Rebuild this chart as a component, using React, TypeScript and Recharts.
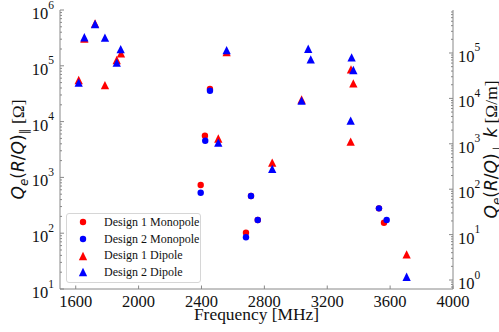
import { ScatterChart, Scatter, XAxis, YAxis } from "recharts";

// monopole modes, left axis [Ohm]
const mono1Freq = [2395, 2422, 2454, 2683, 2715, 2758, 3529, 3561];
const mono1Q = [731, 5590, 38400, 102, 464, 172, 279, 154];
const mono2Freq = [2395, 2424, 2454, 2683, 2715, 2758, 3529, 3578];
const mono2Q = [532, 4550, 35800, 84.5, 464, 172, 279, 172];

// dipole modes, right axis [Ohm/m]
const dip1Freq = [1619, 1655, 1723, 1786, 1861, 1888, 2507, 2560, 2850, 3037, 3349, 3351, 3366, 3705];
const dip1Q = [25400, 208000, 446000, 19700, 70100, 98500, 1309, 105000, 384, 9460, 1112, 43700, 21500, 3.68];
const dip2Freq = [1619, 1655, 1723, 1786, 1861, 1886, 2507, 2560, 2850, 3037, 3079, 3095, 3349, 3355, 3366, 3705];
const dip2Q = [22200, 222000, 435000, 217000, 61100, 122000, 1057, 116000, 279, 8900, 124000, 72600, 3230, 80400, 42200, 1.18];

const freqTicks = [1600, 2000, 2400, 2800, 3200, 3600, 4000];
const freqDomain = [1500, 4000];
const leftDomain = [10, 1e6];
const rightDomain = [0.634, 885000];

const AXIS = "#888";
const SERIF = "Liberation Serif, Times New Roman, serif";
const MATH = "DejaVu Sans, sans-serif";
const serif = { fontFamily: SERIF };
const math = { fontFamily: MATH };

const zip = (xs: number[], ys: number[]) => xs.map((x, i) => ({ x, y: ys[i] }));

function logTicks(lo: number, hi: number) {
  const out: number[] = [];
  for (let e = Math.floor(Math.log10(lo)); e <= Math.ceil(Math.log10(hi)); e++) {
    for (let m = 1; m < 10; m++) {
      const v = m * Math.pow(10, e);
      if (v >= lo && v <= hi) out.push(v);
    }
  }
  return out;
}

function decade(v: number) {
  const l = Math.log10(v);
  const e = Math.round(l);
  return Math.abs(l - e) < 1e-6 ? e : null;
}

function LeftTick(props: any) {
  const { x, y, payload } = props;
  const e = decade(payload.value);
  return (
    <g>
      <line x1={x} x2={x + (e !== null ? 4 : 2)} y1={y} y2={y} stroke={AXIS} />
      {e !== null && (
        <text x={x - 6} y={y + 9} textAnchor="end" style={serif} fontSize={16.5} fill="#111">
          10<tspan dy={-10.5} fontSize={11.5}>{e}</tspan>
        </text>
      )}
    </g>
  );
}

function RightTick(props: any) {
  const { x, y, payload } = props;
  const e = decade(payload.value);
  return (
    <g>
      <line x1={x} x2={x - (e !== null ? 4 : 2)} y1={y} y2={y} stroke={AXIS} />
      {e !== null && (
        <text x={x + 5} y={y + 9} textAnchor="start" style={serif} fontSize={16.5} fill="#111">
          10<tspan dy={-10.5} fontSize={11.5}>{e}</tspan>
        </text>
      )}
    </g>
  );
}

function FreqTick(props: any) {
  const { x, y, payload } = props;
  return (
    <g>
      <line x1={x} x2={x} y1={y} y2={y - 3.5} stroke={AXIS} />
      <text x={x} y={y + 17.5} textAnchor="middle" style={serif} fontSize={16.5} fill="#111">
        {payload.value}
      </text>
    </g>
  );
}

function FreqLabel(props: any) {
  const vb = props.viewBox;
  return (
    <text x={vb.x + vb.width / 2} y={vb.y + 31} textAnchor="middle" style={serif} fontSize={17.4} fill="#111">
      Frequency [MHz]
    </text>
  );
}

function MathLabel({ cx, cy, sub, k, tail }: { cx: number; cy: number; sub: string; k: boolean; tail: string }) {
  return (
    <text transform={`translate(${cx},${cy}) rotate(-90)`} textAnchor="middle" fontSize={17} fill="#111" style={math}>
      <tspan fontStyle="italic">Q</tspan>
      <tspan fontStyle="italic" fontSize={12} dy={4}>e</tspan>
      <tspan dy={-4}>(</tspan>
      <tspan fontStyle="italic">R</tspan>
      <tspan>/</tspan>
      <tspan fontStyle="italic">Q</tspan>
      <tspan>)</tspan>
      <tspan fontSize={12} dy={4}>{sub}</tspan>
      {k ? (
        <>
          <tspan dy={-4} fontStyle="italic"> k</tspan>
          <tspan style={serif} fontSize={17.4}>{tail}</tspan>
        </>
      ) : (
        <tspan dy={-4} style={serif} fontSize={17.4}>{tail}</tspan>
      )}
    </text>
  );
}

function LeftLabel(props: any) {
  const vb = props.viewBox;
  return <MathLabel cx={vb.x + 24} cy={vb.y + vb.height / 2} sub={"\u2225"} k={false} tail={" [\u03a9]"} />;
}

function RightLabel(props: any) {
  const vb = props.viewBox;
  return <MathLabel cx={vb.x + 44} cy={vb.y + vb.height / 2} sub={"\u22a5"} k={true} tail={" [\u03a9/m]"} />;
}

const circle = (color: string) => (p: any) => <circle cx={p.cx} cy={p.cy} r={3.2} fill={color} />;
const triangle = (color: string) => (p: any) => {
  const h = 4.15;
  return (
    <path
      d={`M${p.cx},${p.cy - h}L${p.cx - h},${p.cy + h}L${p.cx + h},${p.cy + h}Z`}
      fill={color}
    />
  );
};

const series = [
  { name: "Design 1 Monopole", color: "#ff0000", marker: "circle", axis: "left", data: zip(mono1Freq, mono1Q) },
  { name: "Design 2 Monopole", color: "#0000ff", marker: "circle", axis: "left", data: zip(mono2Freq, mono2Q) },
  { name: "Design 1 Dipole", color: "#ff0000", marker: "triangle", axis: "right", data: zip(dip1Freq, dip1Q) },
  { name: "Design 2 Dipole", color: "#0000ff", marker: "triangle", axis: "right", data: zip(dip2Freq, dip2Q) },
];

function LegendBox() {
  return (
    <div
      style={{
        position: "absolute",
        left: 66,
        top: 213,
        width: 135,
        height: 70,
        border: "1px solid #d6d6d6",
        borderRadius: 3,
        background: "rgba(255,255,255,0.8)",
        fontFamily: SERIF,
        fontSize: 12,
        lineHeight: "16.7px",
        paddingTop: 0,
        boxSizing: "border-box",
        whiteSpace: "nowrap",
      }}
    >
      {series.map((s) => (
        <div key={s.name} style={{ height: 16.7, display: "flex", alignItems: "center" }}>
          <svg width={37} height={16} style={{ flex: "none" }}>
            {s.marker === "circle" ? (
              <circle cx={16} cy={8} r={3.2} fill={s.color} />
            ) : (
              <path d="M16,3.85L11.85,12.15L20.15,12.15Z" fill={s.color} />
            )}
          </svg>
          <span style={{ color: "#111" }}>{s.name}</span>
        </div>
      ))}
    </div>
  );
}

export default function App() {
  return (
    <div style={{ position: "absolute", left: 0, top: 0, width: 499, height: 332, background: "#fff", overflow: "hidden" }}>
      <ScatterChart width={499} height={332} margin={{ top: 10, right: 0, bottom: 0, left: 0 }}>
        <XAxis
          xAxisId="main"
          dataKey="x"
          type="number"
          domain={freqDomain}
          allowDataOverflow
          ticks={freqTicks}
          interval={0}
          height={43}
          tickSize={0}
          tickMargin={0}
          tick={<FreqTick />}
          axisLine={{ stroke: AXIS }}
          label={{ content: FreqLabel }}
        />
        <XAxis
          xAxisId="top"
          orientation="top"
          type="number"
          domain={freqDomain}
          height={0}
          tick={false}
          tickLine={false}
          axisLine={{ stroke: AXIS }}
        />
        <YAxis
          yAxisId="left"
          dataKey="y"
          type="number"
          scale="log"
          domain={leftDomain}
          allowDataOverflow
          ticks={logTicks(leftDomain[0], leftDomain[1])}
          interval={0}
          width={60}
          tickSize={0}
          tickMargin={0}
          tick={<LeftTick />}
          axisLine={{ stroke: AXIS }}
          label={{ content: LeftLabel }}
        />
        <YAxis
          yAxisId="right"
          orientation="right"
          dataKey="y"
          type="number"
          scale="log"
          domain={rightDomain}
          allowDataOverflow
          ticks={logTicks(rightDomain[0], rightDomain[1])}
          interval={0}
          width={46}
          tickSize={0}
          tickMargin={0}
          tick={<RightTick />}
          axisLine={{ stroke: AXIS }}
          label={{ content: RightLabel }}
        />
        {series.map((s) => (
          <Scatter
            key={s.name}
            name={s.name}
            data={s.data}
            xAxisId="main"
            yAxisId={s.axis}
            fill={s.color}
            shape={s.marker === "circle" ? circle(s.color) : triangle(s.color)}
            isAnimationActive={false}
          />
        ))}
      </ScatterChart>
      <LegendBox />
    </div>
  );
}
